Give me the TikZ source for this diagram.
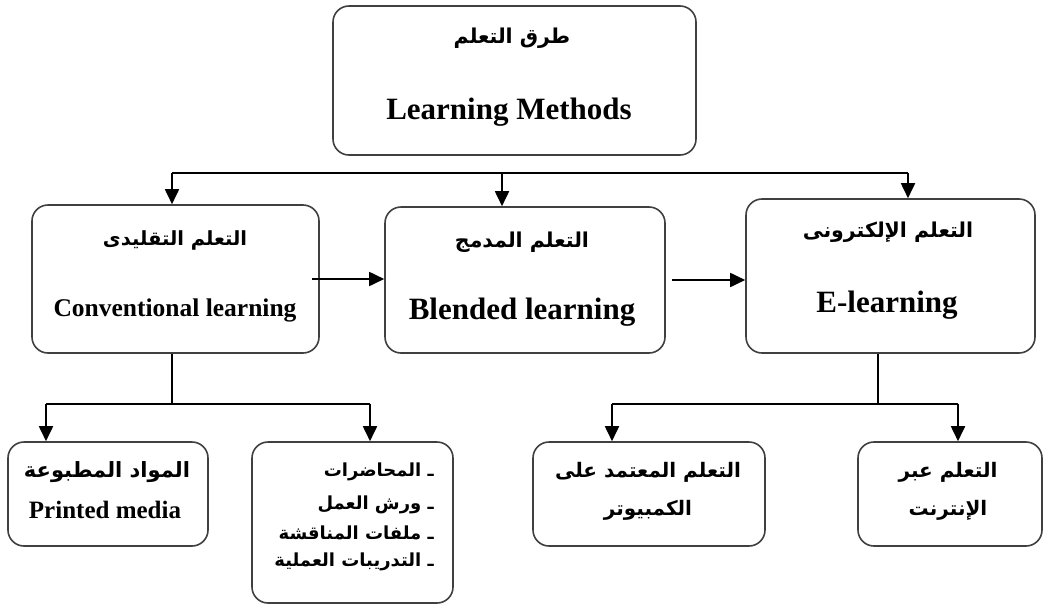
\documentclass[tikz,border=0pt]{standalone}
\usepackage{fontspec}
\setmainfont{Liberation Serif}
\newfontfamily\arabicfont[Script=Arabic]{DejaVu Sans}
\TeXXeTstate=1
\usetikzlibrary{arrows.meta}
\newcommand{\ar}[1]{{\arabicfont\bfseries\beginR #1\endR}}
\begin{document}
\begin{tikzpicture}[x=1pt,y=-1pt,
  box/.style={draw=black!75,line width=1.6pt,rounded corners=16pt,inner sep=0pt,fill=white},
  conn/.style={line width=1.8pt,black},
  arr/.style={conn,-{Triangle[width=14pt,length=15pt]}},
  en/.style={inner sep=0pt,font=\bfseries},
  arb/.style={inner sep=0pt}]
\useasboundingbox (0,0) rectangle (1052,608);
% boxes
\node[box,minimum width=363pt,minimum height=149pt] (top) at (514.5,80.5) {};
\node[box,minimum width=287pt,minimum height=148pt] (conv) at (175.5,279) {};
\node[box,minimum width=280pt,minimum height=146pt] (blend) at (525,280) {};
\node[box,minimum width=289pt,minimum height=154pt] (elearn) at (890.5,276) {};
\node[box,minimum width=200pt,minimum height=104pt] (printed) at (108,494) {};
\node[box,minimum width=201pt,minimum height=161pt] (list) at (352.5,522.5) {};
\node[box,minimum width=232pt,minimum height=104pt] (comp) at (649,494) {};
\node[box,minimum width=184pt,minimum height=104pt] (net) at (950,494) {};
% texts
\node[arb,font=\fontsize{20.5}{24}\selectfont] (topA) at (512,38) {\ar{طرق التعلم}};
\node[en,font=\fontsize{31}{34}\selectfont\bfseries] (topE) at (509,112) {Learning Methods};
\node[arb,font=\fontsize{19.5}{24}\selectfont] (convA) at (175,240) {\ar{التعلم التقليدى}};
\node[en,font=\fontsize{25.5}{28}\selectfont\bfseries] (convE) at (175,310) {Conventional learning};
\node[arb,font=\fontsize{20.5}{24}\selectfont] (blendA) at (522,242) {\ar{التعلم المدمج}};
\node[en,font=\fontsize{31}{34}\selectfont\bfseries] (blendE) at (522,312) {Blended learning};
\node[arb,font=\fontsize{20.5}{24}\selectfont] (elearnA) at (888,232) {\ar{التعلم الإلكترونى}};
\node[en,font=\fontsize{31}{34}\selectfont\bfseries] (elearnE) at (887,305) {E-learning};
\node[arb,font=\fontsize{21}{24}\selectfont] (printedA) at (107,472) {\ar{المواد المطبوعة}};
\node[en,font=\fontsize{25}{28}\selectfont\bfseries] (printedE) at (105,510) {Printed media};
\node[arb,anchor=east,font=\fontsize{18}{22}\selectfont] (l1) at (434,472) {\ar{ـ المحاضرات}};
\node[arb,anchor=east,font=\fontsize{18}{22}\selectfont] (l2) at (434,505) {\ar{ـ ورش العمل}};
\node[arb,anchor=east,font=\fontsize{18}{22}\selectfont] (l3) at (434,533) {\ar{ـ ملفات المناقشة}};
\node[arb,anchor=east,font=\fontsize{18}{22}\selectfont] (l4) at (434,562) {\ar{ـ التدريبات العملية}};
\node[arb,font=\fontsize{20}{24}\selectfont] (compA) at (648,472) {\ar{التعلم المعتمد على}};
\node[arb,font=\fontsize{20}{24}\selectfont] (compB) at (648,510) {\ar{الكمبيوتر}};
\node[arb,font=\fontsize{20}{24}\selectfont] (netA) at (948,472) {\ar{التعلم عبر}};
\node[arb,font=\fontsize{20}{24}\selectfont] (netB) at (948,510) {\ar{الإنترنت}};
% connectors
\coordinate (b1) at (172,173);
\coordinate (b2) at (502,173);
\coordinate (b3) at (908,173);
\draw[conn] (b1) -- (b3);
\draw[arr] (b1) -- (b1 |- conv.north);
\draw[arr] (b2) -- (b2 |- blend.north);
\draw[arr] (b3) -- (b3 |- elearn.north);
\coordinate (c1) at (312,279);
\draw[arr] (c1) -- (c1 -| blend.west);
\coordinate (c2) at (672,280);
\draw[arr] (c2) -- (c2 -| elearn.west);
% conventional branch
\coordinate (s1) at (172,404);
\coordinate (s1l) at (46,404);
\coordinate (s1r) at (370,404);
\draw[conn] (s1 |- conv.south) -- (s1);
\draw[conn] (s1l) -- (s1r);
\draw[arr] (s1l) -- (s1l |- printed.north);
\draw[arr] (s1r) -- (s1r |- list.north);
% e-learning branch
\coordinate (s2) at (878,404);
\coordinate (s2l) at (612,404);
\coordinate (s2r) at (958,404);
\draw[conn] (s2 |- elearn.south) -- (s2);
\draw[conn] (s2l) -- (s2r);
\draw[arr] (s2l) -- (s2l |- comp.north);
\draw[arr] (s2r) -- (s2r |- net.north);
\end{tikzpicture}
\end{document}
